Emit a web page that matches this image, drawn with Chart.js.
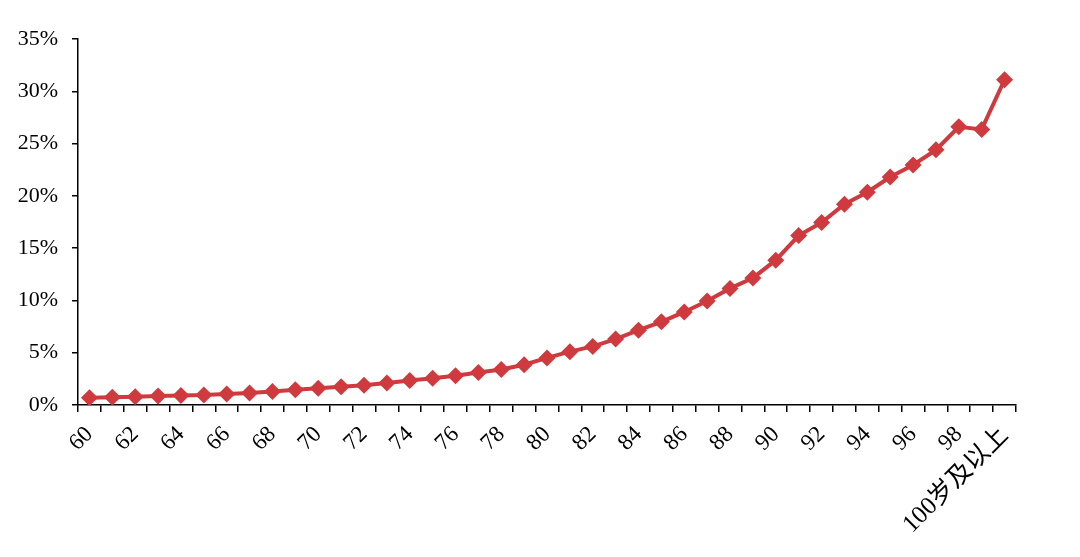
<!DOCTYPE html>
<html>
<head>
<meta charset="utf-8">
<script src="https://cdn.jsdelivr.net/npm/chart.js@4"></script>
<style>
html,body{margin:0;padding:0;background:#fff;}
#wrap{width:1080px;height:557px;position:relative;}
.pre{font-family:'Liberation Serif';position:absolute;left:-9999px;}
.pre2{font-family:'Noto Sans CJK SC';position:absolute;left:-9999px;}
</style>
</head>
<body>
<span class="pre">35%</span><span class="pre2">岁及以上</span>
<div id="wrap"><canvas id="c" width="1080" height="557"></canvas></div>
<script>
const categories = ['60','61','62','63','64','65','66','67','68','69','70','71','72','73','74','75','76','77','78','79','80','81','82','83','84','85','86','87','88','89','90','91','92','93','94','95','96','97','98','99','100岁及以上'];
const values = [0.70,0.75,0.80,0.85,0.90,0.95,1.05,1.15,1.30,1.45,1.60,1.75,1.90,2.10,2.35,2.55,2.80,3.10,3.40,3.85,4.50,5.10,5.60,6.30,7.15,7.95,8.90,9.95,11.15,12.15,13.85,16.20,17.45,19.20,20.35,21.80,22.95,24.40,26.60,26.35,31.10];
const yTicks = [0,5,10,15,20,25,30,35];

const red = '#cf3a3f';
const fontFam = "'Liberation Serif','Noto Sans CJK SC',serif";

function draw() {
  new Chart(document.getElementById('c'), {
    type: 'line',
    data: {
      labels: categories,
      datasets: [{
        data: values,
        borderColor: red,
        backgroundColor: red,
        borderWidth: 4,
        pointStyle: 'rectRot',
        pointRadius: 8.5,
        pointHoverRadius: 8.5,
        pointBorderWidth: 0,
        tension: 0
      }]
    },
    options: {
      responsive: false,
      animation: false,
      plugins: { legend: { display: false }, tooltip: { enabled: false } },
      layout: { padding: { top: 39, right: 64, left: 0, bottom: 0 } },
      scales: {
        x: {
          offset: true,
          afterFit: s => { s.height = 152; },
          border: { display: true, color: '#000', width: 1.5 },
          grid: { display: true, drawOnChartArea: false, drawTicks: true, tickLength: 7, color: '#000', lineWidth: 1.5, offset: true },
          ticks: {
            autoSkip: false,
            minRotation: 45,
            maxRotation: 45,
            padding: 9,
            color: '#000',
            font: ctx => ({ family: fontFam, size: ctx.index === categories.length - 1 ? 25 : 23 }),
            callback: function(v, i) { return i % 2 === 0 ? this.getLabelForValue(v) : ''; }
          }
        },
        y: {
          min: 0,
          max: 35,
          afterFit: s => { s.width = 78; },
          afterBuildTicks: s => { s.ticks = yTicks.map(v => ({ value: v })); },
          border: { display: true, color: '#000', width: 1.5 },
          grid: { display: true, drawOnChartArea: false, drawTicks: true, tickLength: 6, color: '#000', lineWidth: 1.5 },
          ticks: {
            padding: 14,
            color: '#000',
            font: { family: fontFam, size: 22 },
            callback: v => v + '%'
          }
        }
      }
    }
  });
}

Promise.all([
  document.fonts.load("22px 'Liberation Serif'"),
  document.fonts.load("23px 'Noto Sans CJK SC'", '岁及以上')
]).then(draw, draw);
</script>
</body>
</html>
